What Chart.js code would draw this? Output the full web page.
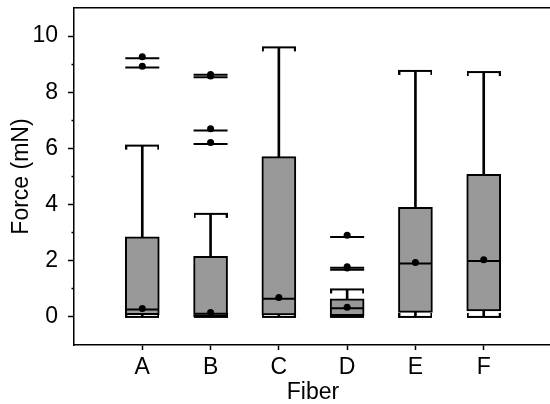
<!DOCTYPE html>
<html><head><meta charset="utf-8">
<script src="https://cdn.jsdelivr.net/npm/chart.js@4/dist/chart.umd.min.js"></script>
<style>
html,body{margin:0;padding:0;overflow:hidden;background:#fff;width:550px;height:404px}
#wrap{width:552px;height:404px}
</style>
</head><body><div id="wrap"><canvas id="c" width="552" height="404"></canvas></div>
<script>
// ---- data ----
const categories = ['A', 'B', 'C', 'D', 'E', 'F'];
const whiskerLow  = [0.00, 0.00, 0.00, 0.00, 0.00, 0.00];
const q1          = [0.08, 0.01, 0.07, 0.04, 0.16, 0.21];
const median      = [0.26, 0.11, 0.65, 0.31, 1.90, 1.99];
const q3          = [2.85, 2.16, 5.71, 0.64, 3.90, 5.08];
const whiskerHigh = [6.10, 3.67, 9.60, 0.98, 8.76, 8.72];
const meanDot     = [0.30, 0.16, 0.69, 0.34, 1.94, 2.04];
const outlierCat  = ['A', 'A', 'B', 'B', 'B', 'B', 'D', 'D', 'D'];
const outlierLine = [9.21, 8.88, 8.62, 8.53, 6.64, 6.16, 2.85, 1.75, 1.68];
const outlierDot  = [9.26, 8.93, 8.63, 8.58, 6.70, 6.21, 2.91, 1.79, 1.74];
const yMin = -1, yMax = 11;
const xTitle = 'Fiber';
const yTitle = 'Force (mN)';

// ---- helpers ----
const FONT = {family: '"Liberation Sans", Arial, sans-serif', size: 23};
const TITLE_FONT = {family: '"Liberation Sans", Arial, sans-serif', size: 23, lineHeight: 1.0};
const labels = [''].concat(categories, ['']);
const perCat = arr => categories.map((c, i) => ({x: c, y: arr[i]}));
const rangeCat = (a, b) => categories.map((c, i) => ({x: c, y: [a[i], b[i]]}));
const outl = arr => outlierCat.map((c, i) => ({x: c, y: arr[i]}));

function capImage(down) {
  const w = 34, h = 12;
  const cv = document.createElement('canvas');
  cv.width = w; cv.height = h;
  const g = cv.getContext('2d');
  g.fillStyle = '#000';
  g.fillRect(0, 5, w, 2);
  if (down) { g.fillRect(0, 5, 2, 5); g.fillRect(w - 2, 5, 2, 5); }
  else { g.fillRect(0, 2, 2, 5); g.fillRect(w - 2, 2, 2, 5); }
  return cv;
}
const capTop = capImage(true), capBottom = capImage(false);

const pts = (data, style, radius, order, extra) => Object.assign({
  type: 'line', data, showLine: false, pointStyle: style, pointRadius: radius,
  pointHoverRadius: radius, pointBorderColor: '#000', pointBackgroundColor: '#000',
  pointBorderWidth: 2, order
}, extra || {});

const noPad = s => { s.paddingTop = 0; s.paddingBottom = 0; s.paddingLeft = 0; s.paddingRight = 0; };

new Chart(document.getElementById('c'), {
  type: 'bar',
  data: {
    labels,
    datasets: [
      {type: 'bar', data: rangeCat(whiskerLow, whiskerHigh), barThickness: 2,
       backgroundColor: '#000', borderWidth: 0, grouped: false, order: 10},
      pts(perCat(whiskerHigh), capTop, 3, 9),
      pts(perCat(whiskerLow), capBottom, 3, 9),
      {type: 'bar', data: rangeCat(q1, q3), barThickness: 34, backgroundColor: '#999999',
       borderColor: '#000', borderWidth: 2, borderSkipped: false, grouped: false, order: 8},
      pts(perCat(median), 'line', 16, 5),
      pts(outl(outlierLine), 'line', 17, 5),
      pts(perCat(meanDot), 'circle', 3.5, 1, {pointBorderWidth: 0}),
      pts(outl(outlierDot), 'circle', 3.5, 1, {pointBorderWidth: 0})
    ]
  },
  options: {
    responsive: false,
    devicePixelRatio: 1,
    animation: false,
    layout: {autoPadding: false, padding: {top: 8, left: 0, right: 0, bottom: 0}},
    plugins: {legend: {display: false}, tooltip: {enabled: false}},
    scales: {
      x: {
        type: 'category', position: 'bottom', offset: false,
        grid: {display: true, offset: false, drawOnChartArea: false, drawTicks: true, tickLength: 5,
               tickWidth: 1.5,
               color: ctx => (ctx.index > 0 && ctx.index < labels.length - 1) ? '#000' : 'rgba(0,0,0,0)'},
        border: {display: true, color: '#000', width: 1.5},
        ticks: {color: '#000', font: FONT, padding: 4, autoSkip: false, maxRotation: 0},
        title: {display: true, text: xTitle, color: '#000', font: TITLE_FONT, padding: {top: 0, bottom: 0}},
        afterFit: s => { s.height = 59; noPad(s); }
      },
      x2: {
        type: 'category', position: 'top', offset: false,
        grid: {display: false, drawTicks: false},
        ticks: {display: false},
        border: {display: true, color: '#000', width: 1.5},
        afterFit: s => { s.height = 0; noPad(s); }
      },
      y: {
        type: 'linear', min: yMin, max: yMax,
        grid: {display: true, drawOnChartArea: false, drawTicks: true, tickLength: 6, tickWidth: 1.5,
               tickColor: ctx => (ctx.tick && (ctx.tick.value === yMin || ctx.tick.value === yMax)) ? 'rgba(0,0,0,0)' : '#000',
               tickBorderDash: ctx => (ctx.tick && Math.abs(ctx.tick.value % 2) === 1) ? [0, 3.5, 20, 0] : []},
        border: {display: true, color: '#000', width: 1.5},
        ticks: {stepSize: 1, autoSkip: false, color: '#000', font: FONT, padding: 10,
                callback: v => (v >= 0 && v % 2 === 0) ? String(v) : ''},
        title: {display: true, text: yTitle, color: '#000', font: TITLE_FONT, padding: {top: 10, bottom: 0}},
        afterFit: s => { s.width = 74; noPad(s); }
      }
    }
  }
});
</script>
</body></html>
